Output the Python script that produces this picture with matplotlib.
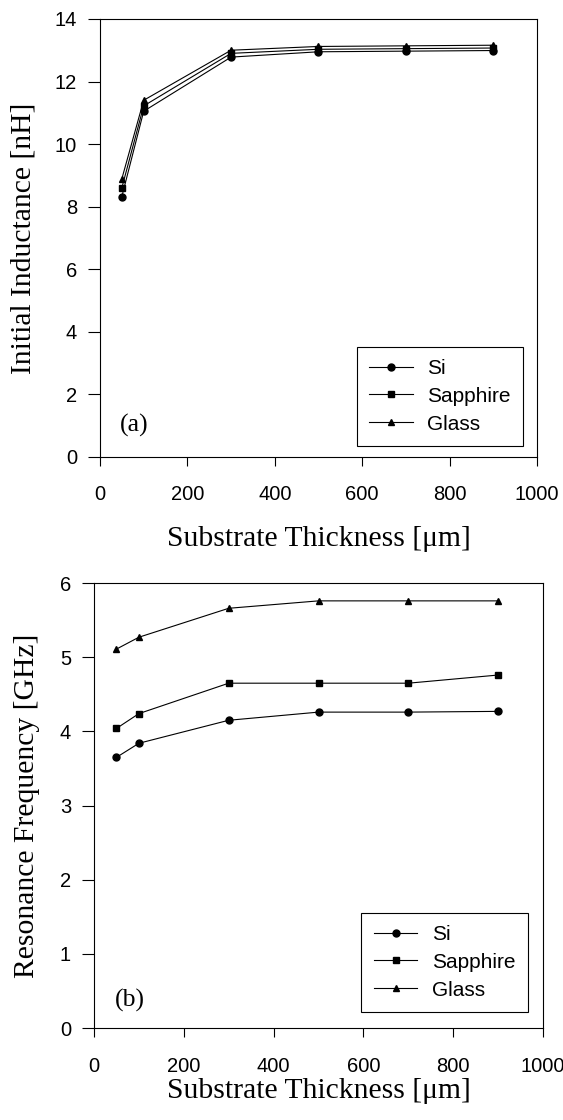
import matplotlib
matplotlib.use("Agg")
import matplotlib.pyplot as plt

thickness = [50, 100, 300, 500, 700, 900]

inductance_si = [8.32, 11.05, 12.78, 12.95, 12.97, 12.99]
inductance_sapphire = [8.6, 11.22, 12.9, 13.03, 13.05, 13.07]
inductance_glass = [8.89, 11.4, 13.0, 13.12, 13.14, 13.16]

freq_si = [3.65, 3.84, 4.15, 4.26, 4.26, 4.27]
freq_sapphire = [4.04, 4.24, 4.65, 4.65, 4.65, 4.76]
freq_glass = [5.11, 5.27, 5.66, 5.76, 5.76, 5.76]

labels = ["Si", "Sapphire", "Glass"]
markers = ["o", "s", "^"]

SANS = "Liberation Sans"
SERIF = "Liberation Serif"


def style_axes(ax, ylim, yticks, ylabel, tag, tag_xy, xlab_y, ylab_x, leg_anchor):
    ax.set_xlim(0, 1000)
    ax.set_ylim(*ylim)
    ax.set_xticks(range(0, 1001, 200))
    ax.set_yticks(yticks)
    ax.tick_params(axis="x", direction="out", length=6.5, width=0.8, labelsize=14.5, pad=14)
    ax.tick_params(axis="y", direction="out", length=8.5, width=0.8, labelsize=14.5, pad=8)
    for lab in ax.get_xticklabels() + ax.get_yticklabels():
        lab.set_fontfamily(SANS)
    for sp in ax.spines.values():
        sp.set_linewidth(0.8)
    ax.set_xlabel("Substrate Thickness [\u03bcm]", family=SERIF, fontsize=21.3, va="center")
    ax.set_ylabel(ylabel, family=SERIF, fontsize=21.3, va="center", ha="center")
    ax.xaxis.set_label_coords(0.5, xlab_y)
    ax.yaxis.set_label_coords(ylab_x, 0.5)
    ax.text(tag_xy[0], tag_xy[1], tag, transform=ax.transAxes, family=SERIF, fontsize=18.5, va="center")
    leg = ax.legend(loc="lower right", bbox_to_anchor=leg_anchor, borderaxespad=0,
                    prop={"family": SANS, "size": 15},
                    fancybox=False, edgecolor="black", framealpha=1, handlelength=2.1,
                    handletextpad=0.7, borderpad=0.6, labelspacing=0.42)
    leg.get_frame().set_linewidth(0.8)


fig = plt.figure(figsize=(5.63, 11.2), dpi=100)
ax1 = fig.add_axes([0.1776, 0.5920, 0.7762, 0.3911])
ax2 = fig.add_axes([0.1670, 0.0821, 0.7975, 0.3973])

for ys, lab, m in zip([inductance_si, inductance_sapphire, inductance_glass], labels, markers):
    ax1.plot(thickness, ys, color="black", lw=0.8, marker=m, ms=5, label=lab)
for ys, lab, m in zip([freq_si, freq_sapphire, freq_glass], labels, markers):
    ax2.plot(thickness, ys, color="black", lw=0.8, marker=m, ms=5, label=lab)

style_axes(ax1, (0, 14), range(0, 15, 2), "Initial Inductance [nH]", "(a)",
           (0.046, 0.073), -0.187, -0.176, (0.969, 0.025))
style_axes(ax2, (0, 6), range(0, 7), "Resonance Frequency [GHz]", "(b)",
           (0.047, 0.063), -0.1416, -0.149, (0.9666, 0.036))

fig.savefig("out.png", dpi=100)
